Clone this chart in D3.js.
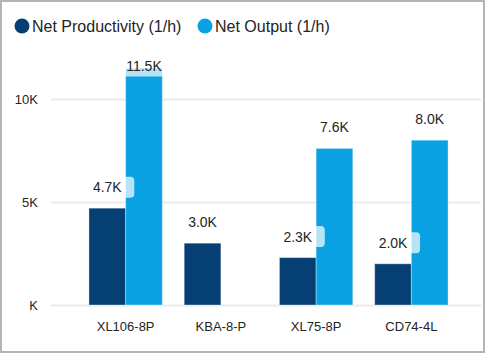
<!DOCTYPE html>
<html>
<head>
<meta charset="utf-8">
<script src="https://cdn.jsdelivr.net/npm/d3@7"></script>
<style>
  body { margin: 0; background: #fff; }
  svg text { font-family: "Liberation Sans", Arial, sans-serif; }
</style>
</head>
<body>
<div id="chart"></div>
<script>
// data
var machines = ["XL106-8P", "KBA-8-P", "XL75-8P", "CD74-4L"];
var netProductivity = [4700, 3000, 2300, 2000];
var netOutput = [11500, null, 7600, 8000];
var seriesNames = ["Net Productivity (1/h)", "Net Output (1/h)"];
var yTicks = [0, 5000, 10000];

var colors = ["#053f73", "#0aa1e2"];

var svgWidth = 486;
var svgHeight = 354;

var svg = d3.select("#chart").append("svg")
    .attr("width", svgWidth)
    .attr("height", svgHeight);

// frame
svg.append("rect")
    .attr("x", 1).attr("y", 1)
    .attr("width", 483).attr("height", 351)
    .attr("fill", "#fff")
    .attr("stroke", "#b4b4b4")
    .attr("stroke-width", 2);

// scales
var x0 = d3.scaleBand()
    .domain(machines)
    .range([78, 459])
    .paddingInner(0.23)
    .paddingOuter(0.115);

var x1 = d3.scaleBand()
    .domain([0, 1])
    .range([0, x0.bandwidth()]);

var y = d3.scaleLinear()
    .domain([0, 10000])
    .range([305, 99]);

// gridlines + y labels
var yAxis = d3.axisLeft(y)
    .tickValues(yTicks)
    .tickSize(-430)
    .tickPadding(13)
    .tickFormat(function(d) { return d === 0 ? "K" : (d / 1000) + "K"; });

var yG = svg.append("g")
    .attr("transform", "translate(51,0)")
    .call(yAxis);
yG.select(".domain").remove();
yG.selectAll(".tick line").attr("stroke", "#ebebeb").attr("stroke-width", 2);
yG.selectAll(".tick text")
    .attr("fill", "#252423")
    .style("font-size", "13px")
    .style("font-family", "'Liberation Sans', Arial, sans-serif");

// x labels
var xAxis = d3.axisBottom(x0).tickSize(0).tickPadding(17);
var xG = svg.append("g")
    .attr("transform", "translate(0,305)")
    .call(xAxis);
xG.select(".domain").remove();
xG.selectAll(".tick text")
    .attr("fill", "#252423")
    .style("font-size", "13px")
    .style("font-family", "'Liberation Sans', Arial, sans-serif");

// bars
var rows = [];
machines.forEach(function(m, i) {
    rows.push({ machine: m, s: 0, value: netProductivity[i] });
    if (netOutput[i] != null) rows.push({ machine: m, s: 1, value: netOutput[i] });
});

svg.append("g").selectAll("rect")
    .data(rows)
    .enter()
    .append("rect")
    .attr("x", d => x0(d.machine) + x1(d.s))
    .attr("y", d => y(d.value))
    .attr("width", x1.bandwidth())
    .attr("height", d => y(0) - y(d.value))
    .attr("fill", d => colors[d.s])
    .attr("stroke", "rgba(255,255,255,0.35)")
    .attr("stroke-width", 1);

// data labels with soft background
var labels = svg.append("g").selectAll("g")
    .data(rows)
    .enter()
    .append("g")
    .attr("transform", function(d) {
        var cx = x0(d.machine) + x1(d.s) + x1.bandwidth() / 2;
        var cy = Math.max(y(d.value) - 21, 66);
        return "translate(" + cx + "," + cy + ")";
    });

labels.append("rect")
    .attr("x", -27).attr("y", -10.5)
    .attr("width", 54).attr("height", 21)
    .attr("rx", 4)
    .attr("fill", "#fff")
    .attr("fill-opacity", 0.7);

labels.append("text")
    .attr("text-anchor", "middle")
    .attr("dy", "0.35em")
    .attr("fill", "#252423")
    .style("font-size", "14px")
    .text(d => (d.value / 1000).toFixed(1) + "K");

// legend
var legend = svg.append("g");
var legendX = [22, 205];
seriesNames.forEach(function(name, i) {
    legend.append("circle")
        .attr("cx", legendX[i]).attr("cy", 26)
        .attr("r", 7.5)
        .attr("fill", colors[i]);
    legend.append("text")
        .attr("x", legendX[i] + 10).attr("y", 31.5)
        .attr("fill", "#252423")
        .style("font-size", "16px")
        .text(name);
});
</script>
</body>
</html>
